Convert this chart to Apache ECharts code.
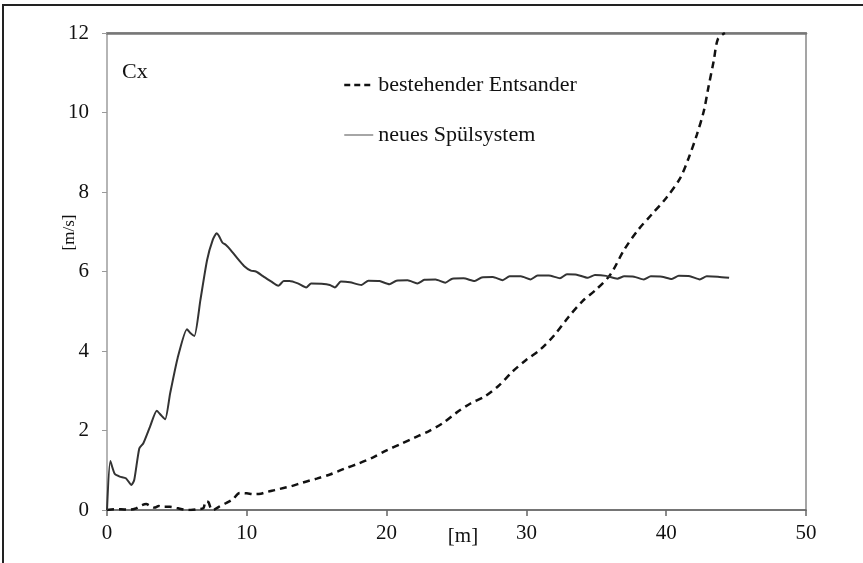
<!DOCTYPE html>
<html>
<head>
<meta charset="utf-8">
<script src="https://cdn.jsdelivr.net/npm/echarts@6/dist/echarts.min.js"></script>
<style>
html,body{margin:0;padding:0;background:#fff;}
#chart{width:863px;height:563px;}
</style>
</head>
<body>
<div id="chart"></div>
<script>
// ---- data ----
const seriesNames = ['bestehender Entsander', 'neues Spülsystem'];
const xTicks = [0, 10, 20, 30, 40, 50];
const yTicks = [0, 2, 4, 6, 8, 10, 12];

const solidX = [0, 0.24, 0.55, 0.91, 1.35, 1.75, 1.95, 2.31, 2.6, 3.08, 3.56, 3.85, 4.16, 4.52, 5.05, 5.72, 5.96, 6.25, 6.68, 7.16, 7.57, 7.84, 8.0, 8.25, 8.49, 8.85, 9.33, 9.8, 10.29, 10.65, 11.13, 11.73, 12.26, 12.64, 13.05, 13.65, 14.25, 14.6, 15.34, 15.94, 16.3, 16.73, 17.38, 18.2, 18.7, 19.5, 20.2, 20.7, 21.5, 22.2, 22.7, 23.5, 24.2, 24.7, 25.5, 26.3, 26.8, 27.6, 28.3, 28.8, 29.6, 30.3, 30.8, 31.6, 32.4, 32.9, 33.6, 34.4, 34.9, 35.7, 36.5, 37.0, 37.7, 38.4, 38.9, 39.7, 40.4, 40.9, 41.7, 42.4, 42.9, 43.7, 44.5];
const solidY = [0, 1.23, 0.91, 0.84, 0.80, 0.63, 0.76, 1.55, 1.68, 2.1, 2.5, 2.39, 2.28, 2.94, 3.82, 4.55, 4.45, 4.38, 5.28, 6.29, 6.8, 6.96, 6.9, 6.73, 6.67, 6.54, 6.33, 6.14, 6.02, 6.0, 5.89, 5.75, 5.64, 5.76, 5.76, 5.7, 5.6, 5.7, 5.69, 5.66, 5.6, 5.75, 5.73, 5.66, 5.77, 5.76, 5.68, 5.77, 5.78, 5.70, 5.79, 5.80, 5.72, 5.82, 5.83, 5.76, 5.85, 5.86, 5.78, 5.88, 5.88, 5.80, 5.90, 5.90, 5.83, 5.93, 5.92, 5.84, 5.91, 5.89, 5.82, 5.88, 5.87, 5.80, 5.88, 5.87, 5.81, 5.89, 5.88, 5.80, 5.88, 5.87, 5.84];

const dashX = [0, 0.5, 1.0, 1.5, 2.0, 2.5, 2.8, 3.1, 3.4, 3.7, 4.0, 4.5, 5.0, 5.5, 6.0, 6.5, 6.9, 7.05, 7.25, 7.45, 7.6, 8.0, 8.5, 9.0, 9.5, 10.0, 10.5, 11.0, 11.5, 12.0, 12.7, 13.2, 14.0, 15.0, 16.0, 17.0, 18.0, 19.0, 20.0, 21.0, 22.0, 23.0, 24.0, 25.0, 26.0, 27.0, 28.0, 29.0, 30.0, 31.0, 32.0, 33.0, 34.0, 35.0, 36.0, 37.0, 38.0, 39.0, 40.0, 41.0, 41.6, 42.2, 42.7, 43.0, 43.4, 43.7, 44.2];
const dashY = [0, 0.02, 0.02, 0.01, 0.03, 0.12, 0.15, 0.1, 0.06, 0.1, 0.08, 0.08, 0.05, 0.01, 0.0, 0.02, 0.05, 0.22, 0.2, 0.02, 0.0, 0.08, 0.17, 0.27, 0.43, 0.42, 0.4, 0.41, 0.46, 0.5, 0.56, 0.6, 0.69, 0.79, 0.9, 1.04, 1.17, 1.32, 1.5, 1.66, 1.82, 1.98, 2.18, 2.45, 2.68, 2.85, 3.12, 3.48, 3.78, 4.04, 4.4, 4.85, 5.25, 5.55, 5.92, 6.55, 7.05, 7.45, 7.85, 8.35, 8.85, 9.45, 10.05, 10.6, 11.3, 11.85, 12.0];

const pairs = (xs, ys) => xs.map((x, i) => [x, ys[i]]);
const FONT = 'Liberation Serif';
const hiddenMarker = {color: 'rgba(0,0,0,0)', borderWidth: 0, opacity: 0};

const chart = echarts.init(document.getElementById('chart'), null, {renderer: 'canvas'});
chart.setOption({
  backgroundColor: '#fff',
  animation: false,
  title: {
    text: 'Cx', left: 117, top: 56,
    textStyle: {fontFamily: FONT, fontSize: 22, fontWeight: 'normal', color: '#111'}
  },
  legend: {
    orient: 'vertical', left: 343, top: 74, itemGap: 28, padding: 0,
    itemWidth: 29, itemHeight: 14,
    textStyle: {fontFamily: FONT, fontSize: 22, color: '#111'},
    data: [
      {name: seriesNames[0], itemStyle: hiddenMarker, lineStyle: {color: '#111', width: 2.5, type: [6, 4]}},
      {name: seriesNames[1], itemStyle: hiddenMarker, lineStyle: {color: '#888', width: 1.5}}
    ]
  },
  graphic: [{
    type: 'rect', silent: true,
    shape: {x: 3, y: 5, width: 1000, height: 700},
    style: {fill: 'none', stroke: '#222', lineWidth: 2}
  }],
  grid: {
    left: 107, right: 57, top: 33, bottom: 53,
    show: true, borderColor: '#888', borderWidth: 1.5, backgroundColor: 'transparent'
  },
  xAxis: [{
    type: 'value', min: xTicks[0], max: xTicks[xTicks.length - 1], interval: 10,
    name: '[m]', nameLocation: 'middle', nameGap: 16, nameMoveOverlap: false,
    nameTextStyle: {fontFamily: FONT, fontSize: 21, color: '#111', padding: [0, 0, 0, 13], verticalAlign: 'top'},
    axisLine: {show: true, lineStyle: {color: '#666', width: 1.5}},
    axisTick: {show: true, inside: false, length: 6, lineStyle: {color: '#666', width: 1.5}},
    axisLabel: {margin: 13, fontFamily: FONT, fontSize: 21, color: '#111'},
    splitLine: {show: false}
  }, {
    type: 'value', position: 'top', min: 0, max: 50,
    axisLine: {show: true, lineStyle: {color: '#777', width: 2.5}},
    axisTick: {show: false}, axisLabel: {show: false}, splitLine: {show: false}
  }],
  yAxis: {
    type: 'value', min: yTicks[0], max: yTicks[yTicks.length - 1], interval: 2,
    name: '[m/s]', nameLocation: 'middle', nameRotate: 90, nameGap: 29, nameMoveOverlap: false,
    nameTextStyle: {fontFamily: FONT, fontSize: 17, color: '#111', padding: [0, 0, 0, 78]},
    axisLine: {show: true, lineStyle: {color: '#bbb', width: 1.5}},
    axisTick: {show: true, inside: false, length: 5, lineStyle: {color: '#999', width: 1}},
    axisLabel: {margin: 18, fontFamily: FONT, fontSize: 21, color: '#111'},
    splitLine: {show: false}
  },
  series: [{
    name: seriesNames[0], type: 'line', data: pairs(dashX, dashY),
    showSymbol: false, symbol: 'none', smooth: 0.3,
    lineStyle: {color: '#111', width: 2.5, type: [7, 5]}, z: 3
  }, {
    name: seriesNames[1], type: 'line', data: pairs(solidX, solidY),
    showSymbol: false, symbol: 'none', smooth: 0.2,
    lineStyle: {color: '#333', width: 2}, z: 4
  }]
});
</script>
</body>
</html>
